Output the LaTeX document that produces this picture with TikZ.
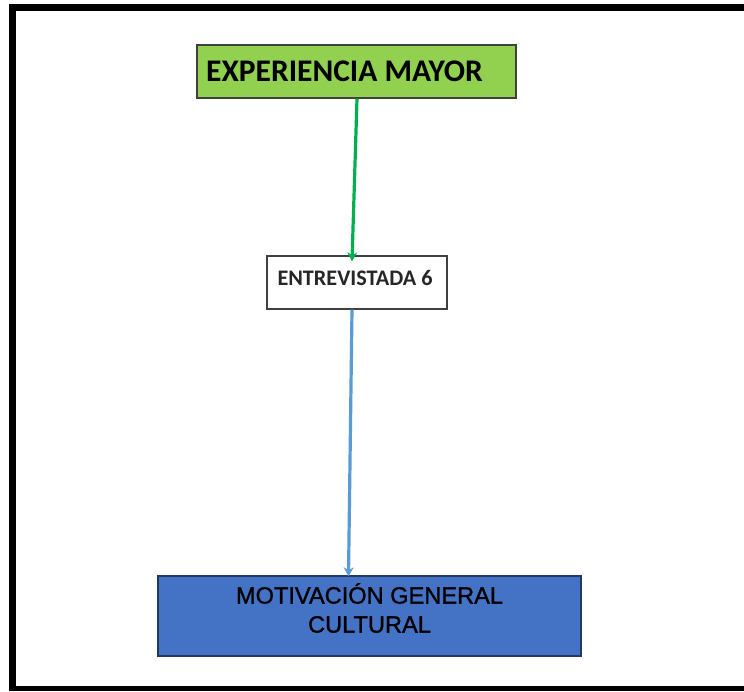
\documentclass[tikz,border=0pt]{standalone}
\usepackage{fontspec}
\newfontfamily\carlito{Carlito}
\newfontfamily\lsans[FakeBold=1.2]{Liberation Sans}
\usetikzlibrary{arrows.meta}
\definecolor{boxgreen}{HTML}{92D050}
\definecolor{boxblue}{HTML}{4472C4}
\definecolor{arrgreen}{HTML}{00B050}
\definecolor{arrblue}{HTML}{5B9BD5}
\definecolor{edge}{HTML}{404040}
\tikzset{
  boxbase/.style={draw=edge, line width=1.4pt, inner sep=0pt},
  conn/.style={line width=3.2pt, -{Stealth[length=9pt,width=10pt]}},
  frame/.style={fill=black, draw=none}
}
\begin{document}
\begin{tikzpicture}[x=1pt,y=-1pt]
\useasboundingbox (0,0) rectangle (744,691);
\fill[white] (0,0) rectangle (744,691);
% frame
\fill[frame] (9,4) rectangle (744,11);
\fill[frame] (9,4) rectangle (16,691);
\fill[frame] (9,686) rectangle (744,691);
% boxes
\node[boxbase, fill=boxgreen, minimum width=319pt, minimum height=53pt] (exp) at (356.5,71.5) {};
\node[anchor=west, inner sep=0pt, font=\carlito\bfseries\fontsize{31.5}{36}\selectfont] (expt) at (206,71) {EXPERIENCIA MAYOR};
\node[boxbase, fill=white, minimum width=180pt, minimum height=53pt] (ent) at (357,282.5) {};
\node[inner sep=0pt, font=\carlito\bfseries\fontsize{22.2}{26}\selectfont, text=black!85] (entt) at (355,278) {ENTREVISTADA 6};
\node[boxbase, fill=boxblue, draw=boxblue!50!black, minimum width=423pt, minimum height=80pt] (mot) at (369.5,616) {};
\node[inner sep=0pt, align=center, font=\lsans\fontsize{23.6}{29}\selectfont, text=black] (mott) at (369.5,608) {MOTIVACIÓN GENERAL\\CULTURAL};
% connectors
\draw[conn, arrgreen] ([xshift=0.5pt]exp.south) -- ([shift={(-5,6)}]ent.north);
\draw[conn, arrblue] ([shift={(-5,0)}]ent.south) -- ([shift={(-21,1)}]mot.north);
\end{tikzpicture}
\end{document}
